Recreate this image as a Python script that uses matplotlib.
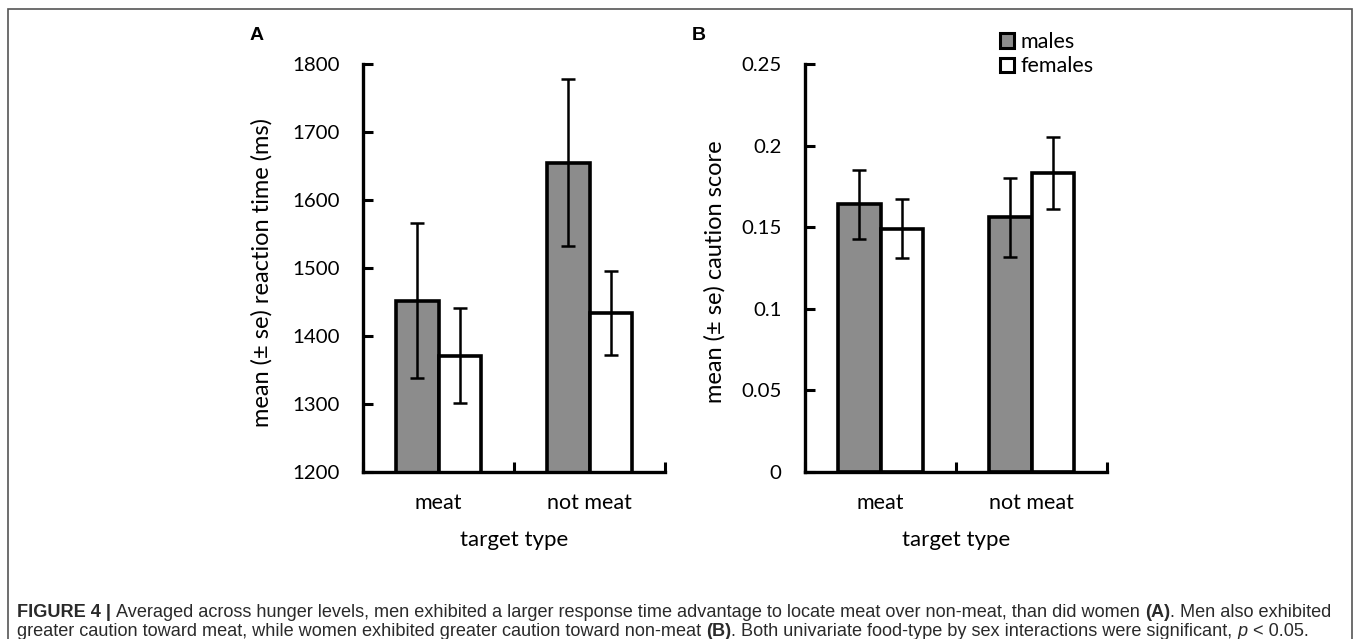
import matplotlib
matplotlib.use('Agg')
from matplotlib import pyplot as plt
from matplotlib.patches import Patch, Rectangle
import numpy as np

# categories and series
categories = ['meat', 'not meat']
series = ['males', 'females']

# panel A: reaction time (ms)
rt_males = [1452, 1655]
rt_males_se = [114, 123]
rt_females = [1371, 1434]
rt_females_se = [70, 62]

# panel B: caution score
caution_males = [0.164, 0.156]
caution_males_se = [0.021, 0.024]
caution_females = [0.149, 0.183]
caution_females_se = [0.018, 0.022]

grey = '#8c8c8c'
tick_font = 'Lato'

fig = plt.figure(figsize=(13.58, 6.39), dpi=100)
W, H = 1358, 639


def px_axes(x0, x1, y0, y1):
    return fig.add_axes([x0 / W, 1 - y1 / H, (x1 - x0) / W, (y1 - y0) / H])


def draw_panel(ax, males, males_se, females, females_se, ylim, yticks, yticklabels, ylabel, ylabel_x):
    x = np.arange(len(categories))
    w = 0.283
    ax.bar(x - w / 2, males, w, color=grey, edgecolor='black', linewidth=2.6,
           zorder=2)
    ax.bar(x + w / 2, females, w, color='white', edgecolor='black', linewidth=2.6,
           zorder=2)
    ax.errorbar(x - w / 2, males, yerr=males_se, fmt='none', ecolor='black',
                elinewidth=1.8, capsize=5, capthick=1.8, zorder=3)
    ax.errorbar(x + w / 2, females, yerr=females_se, fmt='none', ecolor='black',
                elinewidth=1.8, capsize=5, capthick=1.8, zorder=3)
    ax.set_xlim(-0.5, len(categories) - 0.5)
    ax.set_ylim(*ylim)
    for s in ['top', 'right']:
        ax.spines[s].set_visible(False)
    for s in ['left', 'bottom']:
        ax.spines[s].set_linewidth(2.4)
        ax.spines[s].set_capstyle('projecting')
    ax.set_yticks(yticks)
    ax.set_yticklabels(yticklabels, fontfamily=tick_font, fontsize=14.7)
    ax.tick_params(axis='y', direction='in', length=7, width=2.2, pad=17)
    # category boundary ticks on the x axis
    ax.set_xticks(np.arange(len(categories) + 1) - 0.5)
    ax.set_xticklabels([])
    ax.set_xticks(x, minor=True)
    ax.set_xticklabels(categories, minor=True, fontfamily=tick_font, fontsize=15.5)
    ax.tick_params(axis='x', which='major', direction='in', length=7, width=2.2)
    ax.tick_params(axis='x', which='minor', length=0, pad=15)
    ax.set_xlabel('target type', fontfamily=tick_font, fontsize=16, labelpad=12)
    ax.set_ylabel(ylabel, fontfamily=tick_font, fontsize=17)
    ax.yaxis.set_label_coords(ylabel_x, 0.49)
    ax.yaxis.label.set_va('center')
    ax.patch.set_alpha(0)


axA = px_axes(363, 665, 64, 472)
draw_panel(axA, rt_males, rt_males_se, rt_females, rt_females_se,
           (1200, 1800), np.arange(1200, 1801, 100),
           [str(v) for v in range(1200, 1801, 100)],
           'mean (± se) reaction time (ms)', -0.334)

axB = px_axes(805, 1107, 64, 472)
draw_panel(axB, caution_males, caution_males_se, caution_females, caution_females_se,
           (0, 0.25), [0, 0.05, 0.1, 0.15, 0.2, 0.25],
           ['0', '0.05', '0.1', '0.15', '0.2', '0.25'],
           'mean (± se) caution score', -0.30)

# panel letters
fig.text(250 / W, 1 - 36 / H, 'A', fontfamily='Liberation Sans', fontweight='bold',
         fontsize=14, va='center', ha='left')
fig.text(692 / W, 1 - 36 / H, 'B', fontfamily='Liberation Sans', fontweight='bold',
         fontsize=14, va='center', ha='left')

# legend
handles = [Patch(facecolor=grey, edgecolor='black', linewidth=2.2),
           Patch(facecolor='white', edgecolor='black', linewidth=2.2)]
fig.legend(handles, series, loc='upper left', bbox_to_anchor=(989 / W, 1 - 21 / H),
           frameon=False, borderpad=0, handlelength=0.68, handleheight=0.68,
           handletextpad=0.3, labelspacing=0.22,
           prop={'family': tick_font, 'size': 15.5})

# frame around figure
fig.patches.append(Rectangle((8 / W, -0.1), (1352 - 8) / W, 1.1 - 9 / H,
                             transform=fig.transFigure, fill=False,
                             edgecolor='#555555', linewidth=1.2))

# caption with mixed styles
renderer = fig.canvas.get_renderer()


def caption_line(parts, x0, y):
    x = x0
    for txt, style in parts:
        kw = {'fontfamily': 'Liberation Sans', 'fontsize': 13.1, 'color': '#2a2a2a'}
        if style == 'bold':
            kw['fontweight'] = 'bold'
        elif style == 'italic':
            kw['fontstyle'] = 'italic'
        t = fig.text(x / W, 1 - y / H, txt, va='baseline', ha='left', **kw)
        bb = t.get_window_extent(renderer)
        x += bb.width


line1 = [('FIGURE 4 | ', 'bold'),
         ('Averaged across hunger levels, men exhibited a larger response time advantage to locate meat over non-meat, than did women ', 'normal'),
         ('(A)', 'bold'),
         ('. Men also exhibited', 'normal')]
line2 = [('greater caution toward meat, while women exhibited greater caution toward non-meat ', 'normal'),
         ('(B)', 'bold'),
         ('. Both univariate food-type by sex interactions were significant, ', 'normal'),
         ('p', 'italic'),
         (' < 0.05.', 'normal')]
caption_line(line1, 17, 617)
caption_line(line2, 17, 636)

plt.savefig('out.png', dpi=100)
